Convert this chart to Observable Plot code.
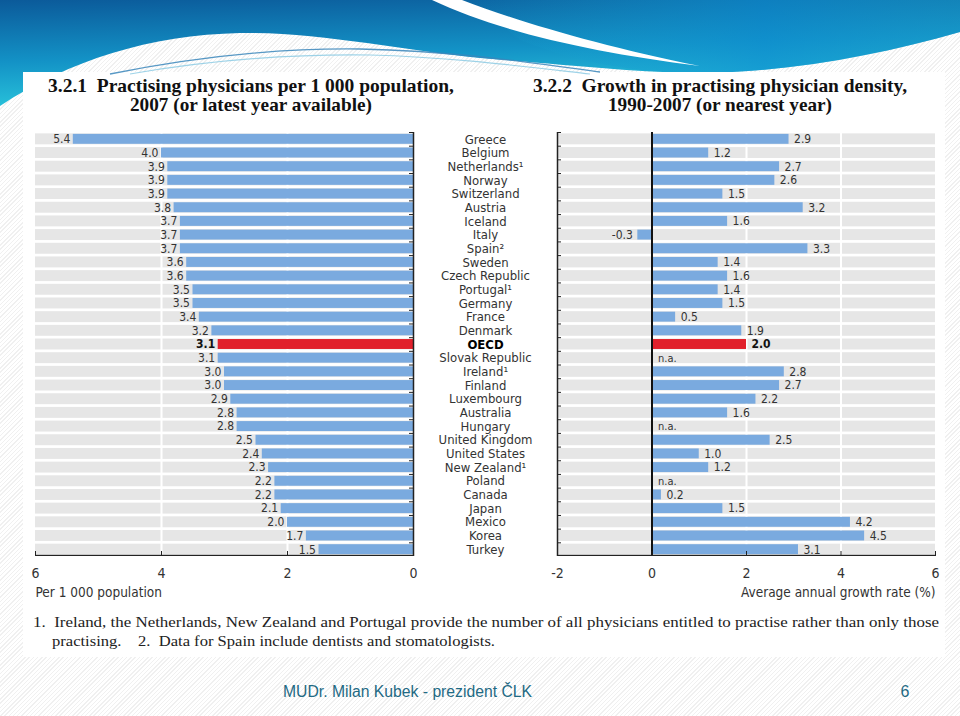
<!DOCTYPE html>
<html><head><meta charset="utf-8">
<script src="https://cdn.jsdelivr.net/npm/d3@7"></script>
<script src="https://cdn.jsdelivr.net/npm/@observablehq/plot@0.6"></script>
<style>
body{margin:0;}
#slide{position:relative;width:960px;height:716px;overflow:hidden;
 background:repeating-linear-gradient(135deg,#ffffff 0 2px,#f0f0f0 2px 3px);}
#bg{position:absolute;left:0;top:0;}
.chart{position:absolute;top:120px;line-height:0;}
.chart svg{display:block;}
</style></head><body><div id="slide">
<svg id="bg" width="960" height="716" xmlns="http://www.w3.org/2000/svg">
 <defs>
  <linearGradient id="gb" x1="0" y1="0" x2="0.25" y2="1">
   <stop offset="0" stop-color="#0b5a9a"/><stop offset="0.55" stop-color="#1392c6"/><stop offset="1" stop-color="#2ac6dc"/>
  </linearGradient>
  <linearGradient id="gr" x1="0" y1="0" x2="1" y2="0">
   <stop offset="0" stop-color="#1aa6cf" stop-opacity="0"/><stop offset="0.6" stop-color="#0d8ed2" stop-opacity="0.55"/><stop offset="1" stop-color="#1a9fcc" stop-opacity="0.4"/>
  </linearGradient>
 </defs>
 <path d="M0,0 H960 V32 C880,55 790,72 700,73 C640,73 560,64 480,58 C400,50 320,32 240,33 C150,35 70,60 0,106 Z" fill="url(#gb)"/>
 <path d="M470,0 H960 V32 C880,55 790,72 700,73 C640,73 580,64 520,40 Z" fill="url(#gr)"/>
 <path d="M432,0 H462 C520,22 600,46 700,66 C590,52 500,32 432,0 Z" fill="#ffffff"/>
 <rect x="23" y="72" width="922" height="585" fill="#ffffff"/>
 <path d="M110,74 C200,56 280,48 360,49 C450,51 520,61 600,72" fill="none" stroke="#3a86bb" stroke-width="1.4" opacity="0.85"/>
 <path d="M130,74 C210,60 290,54 370,55 C450,57 520,66 590,74" fill="none" stroke="#86c8e2" stroke-width="1.2" opacity="0.8"/>
 <g font-family="'Liberation Serif','DejaVu Serif',serif" font-weight="bold" font-size="19" fill="#111">
  <text x="48" y="92" textLength="406" lengthAdjust="spacingAndGlyphs">3.2.1&#160; Practising physicians per 1 000 population,</text>
  <text x="130" y="111" textLength="242" lengthAdjust="spacingAndGlyphs">2007 (or latest year available)</text>
  <text x="533" y="92" textLength="374" lengthAdjust="spacingAndGlyphs">3.2.2&#160; Growth in practising physician density,</text>
  <text x="608" y="111" textLength="224" lengthAdjust="spacingAndGlyphs">1990-2007 (or nearest year)</text>
 </g>
 <g font-family="'Liberation Serif','DejaVu Serif',serif" font-size="15.5" fill="#222">
  <text x="33" y="627" textLength="906" lengthAdjust="spacingAndGlyphs">1.&#160; Ireland, the Netherlands, New Zealand and Portugal provide the number of all physicians entitled to practise rather than only those</text>
  <text x="52" y="646" textLength="443" lengthAdjust="spacingAndGlyphs">practising.&#160;&#160;&#160; 2.&#160; Data for Spain include dentists and stomatologists.</text>
 </g>
 <g font-family="'Liberation Sans',Arial,sans-serif" font-size="16" fill="#1f6a84">
  <text x="283" y="697" textLength="249" lengthAdjust="spacingAndGlyphs">MUDr. Milan Kubek - prezident ČLK</text>
  <text x="905" y="697" text-anchor="middle">6</text>
 </g>
</svg>
<div id="left" class="chart" style="left:0px"></div>
<div id="right" class="chart" style="left:540px"></div>
</div>
<script>
const countries = ["Greece","Belgium","Netherlands¹","Norway","Switzerland","Austria","Iceland","Italy","Spain²","Sweden","Czech Republic","Portugal¹","Germany","France","Denmark","OECD","Slovak Republic","Ireland¹","Finland","Luxembourg","Australia","Hungary","United Kingdom","United States","New Zealand¹","Poland","Canada","Japan","Mexico","Korea","Turkey"];
const density = [5.4,4.0,3.9,3.9,3.9,3.8,3.7,3.7,3.7,3.6,3.6,3.5,3.5,3.4,3.2,3.1,3.1,3.0,3.0,2.9,2.8,2.8,2.5,2.4,2.3,2.2,2.2,2.1,2.0,1.7,1.5];
const growth = [2.9,1.2,2.7,2.6,1.5,3.2,1.6,-0.3,3.3,1.4,1.6,1.4,1.5,0.5,1.9,2.0,null,2.8,2.7,2.2,1.6,null,2.5,1.0,1.2,null,0.2,1.5,4.2,4.5,3.1];
const densityTicks = [0,2,4,6];
const growthTicks = [-2,0,2,4,6];
const densityDomain = [0,6];
const growthDomain = [-2,6];
const highlight = "OECD";
const densityTitle = "Per 1 000 population";
const growthTitle = "Average annual growth rate (%)";

const rows = countries.map((c,i)=>({country:c, density:density[i], growth:growth[i]}));
const FONT = "'Liberation Sans Narrow','Arial Narrow','DejaVu Sans Condensed',sans-serif";
const BLUE = "#7aaadf", RED = "#e1202b", GREY = "#e6e6e6", INK = "#333333", AXIS = "#222222";
const TOP = 12, PH = 424, BOT = 48, H = TOP + PH + BOT;
const PI = 0.2, PO = 0.1;
const step = PH / (countries.length - PI + 2*PO);
const yOpts = {domain: countries, axis: null, paddingInner: PI, paddingOuter: PO, round: false};
const isHi = d => d.country === highlight;

// Left panel
const L = {width: 545, ml: 35, mr: 132};
const LW = L.width - L.ml - L.mr;
const left = Plot.plot({
  width: L.width, height: H, marginTop: TOP, marginBottom: BOT, marginLeft: L.ml, marginRight: L.mr,
  x: {domain: densityDomain, reverse: true, axis: null},
  y: yOpts,
  color: {type: "identity"},
  style: {background: "transparent", fontFamily: FONT, overflow: "visible"},
  marks: [
    Plot.barX(rows, {y: "country", x1: densityDomain[0], x2: densityDomain[1], fill: GREY}),
    Plot.ruleX(densityTicks.filter(t => t > densityDomain[0] && t < densityDomain[1]), {stroke: "#fff", strokeWidth: 2}),
    Plot.barX(rows, {y: "country", x1: 0, x2: "density", fill: d => isHi(d) ? RED : BLUE, insetTop: 0.5, insetBottom: 0.5}),
    Plot.text(rows.filter(d => !isHi(d)), {y: "country", x: "density", text: d => d.density.toFixed(1), dx: -3, textAnchor: "end", fontSize: 12, fill: INK}),
    Plot.text(rows.filter(isHi), {y: "country", x: "density", text: d => d.density.toFixed(1), dx: -3, textAnchor: "end", fontSize: 12, fontWeight: "bold", fill: "#111"}),
    Plot.ruleX([0], {stroke: AXIS, strokeWidth: 1.5}),
    Plot.tickY(countries, {y: d => d, dy: -step/2, insetLeft: LW - 4, stroke: AXIS}),
    Plot.rect([0], {x1: densityDomain[0], x2: densityDomain[1], insetTop: PH - 1.2, fill: AXIS}),
    Plot.tickX(densityTicks, {x: d => d, insetTop: PH - 5, stroke: AXIS}),
    Plot.text(densityTicks, {x: d => d, frameAnchor: "bottom", dy: 21, text: d => String(d), fontSize: 14, fill: INK}),
    Plot.text([densityTitle], {frameAnchor: "bottom-left", dy: 40, text: d => d, textAnchor: "start", fontSize: 13.5, fill: INK}),
    Plot.text(countries.filter(c => c !== highlight), {y: d => d, x: 0, text: d => d, dx: 72, textAnchor: "middle", fontSize: 13, fill: INK}),
    Plot.text([highlight], {y: d => d, x: 0, text: d => d, dx: 72, textAnchor: "middle", fontSize: 13, fontWeight: "bold", fill: "#000"})
  ]
});
document.getElementById("left").append(left);

// Right panel
const R = {width: 420, ml: 17, mr: 25};
const RW = R.width - R.ml - R.mr;
const valid = rows.filter(d => d.growth != null);
const right = Plot.plot({
  width: R.width, height: H, marginTop: TOP, marginBottom: BOT, marginLeft: R.ml, marginRight: R.mr,
  x: {domain: growthDomain, axis: null},
  y: yOpts,
  color: {type: "identity"},
  style: {background: "transparent", fontFamily: FONT, overflow: "visible"},
  marks: [
    Plot.barX(rows, {y: "country", x1: growthDomain[0], x2: growthDomain[1], fill: GREY}),
    Plot.ruleX(growthTicks.filter(t => t > 0 && t < growthDomain[1]), {stroke: "#fff", strokeWidth: 2}),
    Plot.barX(valid, {y: "country", x1: 0, x2: "growth", fill: d => isHi(d) ? RED : BLUE, insetTop: 0.5, insetBottom: 0.5}),
    Plot.text(valid.filter(d => d.growth >= 0 && !isHi(d)), {y: "country", x: "growth", text: d => d.growth.toFixed(1), dx: 5, textAnchor: "start", fontSize: 12, fill: INK}),
    Plot.text(valid.filter(isHi), {y: "country", x: "growth", text: d => d.growth.toFixed(1), dx: 5, textAnchor: "start", fontSize: 12, fontWeight: "bold", fill: "#111"}),
    Plot.text(valid.filter(d => d.growth < 0), {y: "country", x: "growth", text: d => d.growth.toFixed(1), dx: -5, textAnchor: "end", fontSize: 12, fill: INK}),
    Plot.text(rows.filter(d => d.growth == null), {y: "country", x: 0, text: d => "n.a.", dx: 6, textAnchor: "start", fontSize: 11, fill: INK}),
    Plot.ruleX([0], {stroke: "#111", strokeWidth: 2}),
    Plot.ruleX([growthDomain[0]], {stroke: AXIS, strokeWidth: 1.5}),
    Plot.tickY(countries, {y: d => d, dy: -step/2, insetRight: RW - 4, stroke: AXIS}),
    Plot.rect([0], {x1: growthDomain[0], x2: growthDomain[1], insetTop: PH - 1.2, fill: AXIS}),
    Plot.tickX(growthTicks, {x: d => d, insetTop: PH - 5, stroke: AXIS}),
    Plot.text(growthTicks, {x: d => d, frameAnchor: "bottom", dy: 21, text: d => String(d), fontSize: 14, fill: INK}),
    Plot.text([growthTitle], {frameAnchor: "bottom-right", dy: 40, text: d => d, textAnchor: "end", fontSize: 13.5, fill: INK})
  ]
});
document.getElementById("right").append(right);
</script>
</body></html>
